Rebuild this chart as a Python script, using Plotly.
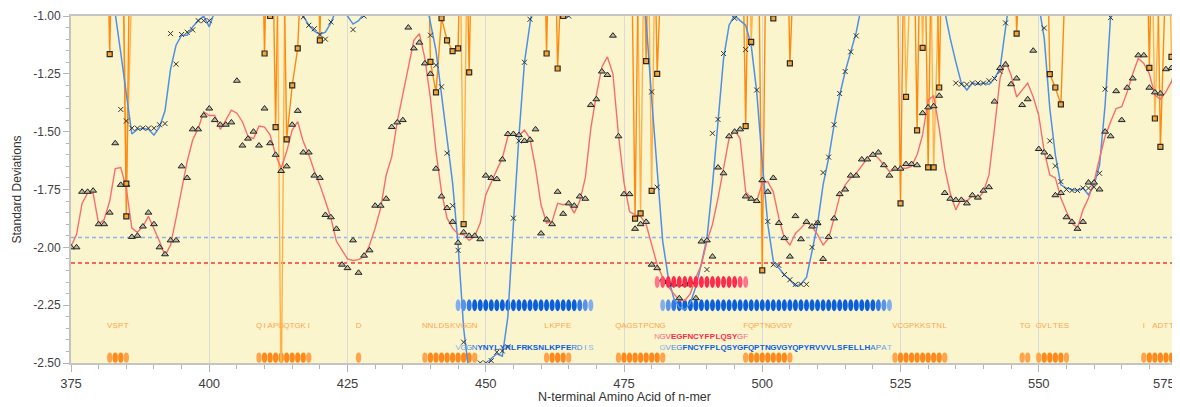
import plotly.graph_objects as go

# ---------------- data ----------------
POSITIONS = list(range(375, 576))

# raw standard deviations (triangles)
TRIANGLE_SD = [
    -2.00, -2.00, -1.76, -1.76, -1.755, -1.90, -1.90, -1.85, -1.55, -1.73,      # 375-384
    -1.73, -1.955, -1.95, -1.91, -1.85, -1.90, -2.00, -2.03, -1.97, -1.97,      # 385-394
    -1.65, -1.70, -1.49, -1.49, -1.43, -1.40, -1.45, -1.47, -1.47, -1.46,       # 395-404
    -1.28, -1.56, -1.53, -1.50, -1.56, -1.40, -1.55, -1.60, -1.67, -1.65,       # 405-414
    -1.47, -1.41, -1.59, -1.59, -1.69, -1.70, -1.86, -1.87, -1.92, -2.075,      # 415-424
    -2.09, -1.97, -2.11, -2.036, -2.013, -1.82, -1.82, -1.79, -1.48, -1.46,     # 425-434
    -1.45, -1.05, -1.14, -1.115, -1.205, -1.25, -1.66, -1.78, -1.83, -1.89,     # 435-444
    -1.98, -1.935, -1.95, -1.95, -1.965, -1.69, -1.70, -1.705, -1.62, -1.51,    # 445-454
    -1.51, -1.515, -1.54, -1.535, -1.49, -1.94, -1.88, -1.90, -1.76, -1.855,    # 455-464
    -1.81, -1.82, -1.78, -1.79, -1.385, -1.36, -1.24, -1.255, -1.085, -1.52,    # 465-474
    -1.77, -1.77, -1.92, -1.90, -1.89, -2.075, -2.09, -2.14, -2.15, -2.16,      # 475-484
    -2.22, -2.16, -2.15, -2.22, -1.975, -1.97, -2.04, -1.655, -1.68, -1.52,     # 485-494
    -1.50, -1.49, -1.78, -1.79, -1.80, -1.71, -1.76, -1.70, -1.895, -1.96,      # 495-504
    -2.04, -1.865, -1.965, -1.89, -1.91, -1.895, -2.05, -1.955, -1.875, -1.77,  # 505-514
    -1.75, -1.69, -1.69, -1.62, -1.62, -1.60, -1.59, -1.645, -1.69, -1.66,      # 515-524
    -1.66, -1.64, -1.64, -1.645, -1.42, -1.395, -1.39, -1.345, -1.765, -1.79,   # 525-534
    -1.795, -1.795, -1.81, -1.775, -1.785, -1.755, -1.74, -1.37, -1.225, -1.21, # 535-544
    -1.295, -1.27, -1.385, -1.36, -1.15, -1.575, -1.59, -1.61, -1.775, -1.765,  # 545-554
    -1.87, -1.89, -1.92, -1.89, -1.72, -1.72, -1.75, -1.50, -1.52, -1.325,      # 555-564
    -1.45, -1.31, -1.27, -1.17, -1.17, -1.31, -1.33, -1.335, -1.23, -1.225,     # 565-574
    -1.255,                                                                     # 575
]

# smoothed curve (red line)
SMOOTH_SD = [
    -1.996, -1.945, -1.81, -1.766, -1.766, -1.90, -1.88, -1.80, -1.66, -1.655,
    -1.745, -1.917, -1.935, -1.91, -1.866, -1.917, -1.974, -2.036, -1.99, -1.874,
    -1.745, -1.63, -1.536, -1.486, -1.414, -1.43, -1.43, -1.49, -1.45, -1.407,
    -1.42, -1.457, -1.52, -1.53, -1.476, -1.48, -1.514, -1.60, -1.658, -1.586,
    -1.493, -1.457, -1.543, -1.60, -1.67, -1.73, -1.80, -1.874, -1.974, -2.01,
    -2.05, -2.057, -2.053, -2.04, -1.99, -1.917, -1.83, -1.687, -1.608, -1.457,
    -1.34, -1.213, -1.105, -1.076, -1.184, -1.356, -1.586, -1.76, -1.874, -1.917,
    -1.943, -1.945, -1.97, -1.953, -1.895, -1.773, -1.716, -1.665, -1.615, -1.52,
    -1.507, -1.517, -1.493, -1.53, -1.658, -1.816, -1.895, -1.888, -1.81, -1.816,
    -1.81, -1.852, -1.80, -1.70, -1.486, -1.342, -1.22, -1.177, -1.25, -1.514,
    -1.72, -1.845, -1.86, -1.866, -1.90, -1.99, -2.075, -2.13, -2.17, -2.20,
    -2.23, -2.23, -2.20, -2.13, -2.075, -1.974, -1.90, -1.787, -1.658, -1.53,
    -1.493, -1.53, -1.76, -1.787, -1.80, -1.723, -1.716, -1.76, -1.874, -1.96,
    -1.99, -1.94, -1.917, -1.89, -1.91, -1.945, -1.99, -1.96, -1.874, -1.78,
    -1.73, -1.70, -1.68, -1.65, -1.615, -1.593, -1.615, -1.644, -1.672, -1.665,
    -1.658, -1.658, -1.65, -1.60, -1.514, -1.364, -1.345, -1.486, -1.658, -1.766,
    -1.838, -1.79, -1.80, -1.776, -1.79, -1.76, -1.687, -1.486, -1.27, -1.195,
    -1.256, -1.35, -1.32, -1.29, -1.35, -1.43, -1.586, -1.687, -1.70, -1.787,
    -1.845, -1.895, -1.917, -1.838, -1.787, -1.716, -1.615, -1.52, -1.457, -1.40,
    -1.392, -1.328, -1.25, -1.184, -1.205, -1.25, -1.342, -1.36, -1.328, -1.284,
    -1.213,
]

# second scoring curve (blue line); values above -1.0 run off the top of the plot
BLUE_SMOOTH_SD = [
    -0.7, -0.7, -0.7, -0.7, -0.7, -0.7, -0.7, -0.85, -0.99, -1.16,
    -1.33, -1.51, -1.49, -1.485, -1.49, -1.515, -1.48, -1.41, -1.23, -1.126,
    -1.083, -1.083, -1.047, -1.02, -1.0, -1.047, -0.98, -0.8, -0.7, -0.7,
    -0.7, -0.7, -0.7, -0.7, -0.7, -0.7, -0.7, -0.7, -0.7, -0.7,
    -0.8, -0.95, -1.0, -1.04, -1.065, -1.08, -1.07, -1.03, -0.97, -0.98,
    -1.0, -1.035, -1.02, -0.99, -0.85, -0.7, -0.7, -0.7, -0.7, -0.7,
    -0.7, -0.7, -0.7, -0.8, -0.9, -1.03, -1.15, -1.34, -1.52, -1.72,
    -1.99, -2.35, -2.55, -2.56, -2.55, -2.52, -2.48, -2.46, -2.47, -2.3,
    -1.9, -1.52, -1.2, -1.02, -0.85, -0.7, -0.7, -0.8, -0.97, -1.01,
    -1.0, -0.9, -0.7, -0.7, -0.7, -0.7, -0.7, -0.7, -0.7, -0.7,
    -0.7, -0.7, -0.7, -0.85, -1.02, -1.356, -1.672, -1.974, -2.13, -2.22,
    -2.26, -2.27, -2.24, -2.17, -2.07, -1.96, -1.73, -1.457, -1.184, -1.04,
    -0.997, -1.02, -1.04, -1.126, -1.328, -1.63, -1.90, -2.06, -2.09, -2.12,
    -2.14, -2.168, -2.158, -2.13, -2.017, -1.90, -1.73, -1.615, -1.47, -1.342,
    -1.24, -1.155, -1.07, -0.95, -0.8, -0.7, -0.7, -0.7, -0.7, -0.7,
    -0.7, -0.7, -0.7, -0.7, -0.7, -0.7, -0.75, -0.85, -0.98, -1.098,
    -1.198, -1.29, -1.32, -1.29, -1.296, -1.29, -1.296, -1.27, -1.227, -1.07,
    -0.9, -0.7, -0.7, -0.8, -0.9, -0.95, -1.098, -1.40, -1.60, -1.73,
    -1.744, -1.75, -1.754, -1.744, -1.773, -1.73, -1.644, -1.385, -0.997, -0.8,
    -0.7, -0.7, -0.7, -0.7, -0.7, -0.7, -0.7, -0.8, -0.9, -0.97,
    -1.04,
]

# raw points of the blue curve (x marks)
BLUE_RAW_POS = [384, 385, 386, 387, 388, 389, 390, 391, 392, 393, 394, 395, 396, 397, 398, 399, 400,
                417, 418, 419, 420, 421, 422, 426, 428,
                440, 441, 442, 443, 444, 445, 446, 449, 450, 451, 452, 453, 454, 455, 456, 457, 458,
                464, 465, 480, 481,
                490, 491, 492, 493, 495, 497, 498, 499,
                501, 502, 503, 504, 505, 506, 507, 508, 509, 510, 511, 512, 513, 514, 515, 516, 517,
                535, 536, 537, 538, 539, 540, 541, 542, 543, 544,
                551, 552, 553, 554, 555, 556, 557, 558, 559, 560, 561, 562, 563, 575]
BLUE_RAW_SD = [-1.404, -1.454, -1.485, -1.485, -1.485, -1.485, -1.485, -1.47, -1.465, -1.076, -1.208, -1.08, -1.07, -1.06, -1.02, -1.02, -1.02,
               -1.004, -1.04, -1.055, -1.08, -1.10, -1.026, -1.059, -1.0,
               -1.083, -1.213, -1.306, -1.593, -1.82, -2.013, -2.41, -2.5, -2.5, -2.49, -2.453, -2.448, -2.43, -1.874, -1.54, -1.20, -1.014,
               -1.0, -1.0, -1.328, -1.74,
               -2.096, -1.507, -1.447, -1.162, -1.01, -1.145, -1.12, -1.32,
               -1.888, -2.075, -2.078, -2.118, -2.14, -2.16, -2.16, -2.16, -2.0, -1.895, -1.677, -1.61, -1.47, -1.335, -1.24, -1.155, -1.086,
               -1.29, -1.295, -1.296, -1.29, -1.29, -1.29, -1.28, -1.27, -1.24, -1.03,
               -1.052, -1.54, -1.648, -1.716, -1.75, -1.754, -1.754, -1.744, -1.744, -1.74, -1.68, -1.316, -1.007, -1.057]

# orange n-mer scores: only the dips reach the visible range, everything else is off-scale high
ORANGE_A_POS = [382, 385, 410, 412, 414, 415, 416, 420, 440, 441, 442, 443, 444, 445, 447, 461, 463,
                477, 479, 481, 497, 500, 505, 525, 528, 530, 532, 546, 552, 553, 554, 570, 572]
ORANGE_A_SD = [-1.165, -1.866, -1.162, -1.48, -1.533, -1.30, -1.14, -1.105, -1.198, -1.33, -1.009, -1.105,
               -1.152, -1.14, -1.244, -1.162, -1.227, -1.876, -1.195, -1.25, -1.476, -2.10, -1.205, -1.81,
               -1.494, -1.654, -1.309, -1.076, -1.251, -1.309, -1.382, -1.224, -1.566]
ORANGE_B_POS = [385, 411, 413, 446, 464, 478, 480, 498, 502, 526, 529, 531, 571, 574, 575]
ORANGE_B_SD = [-1.725, -1.0, -2.70, -1.90, -1.0, -1.853, -1.756, -1.112, -1.01, -1.35, -1.138, -1.654,
               -1.443, -1.177, -1.205]
ORANGE_OFFSCALE_SD = 0.0

BLUE_THRESHOLD = -1.957
RED_THRESHOLD = -2.068

# predicted epitope runs: (first residue, sequence)
ORANGE_RUNS = [(382, "VSPT"), (409, "QIAPGQTGKI"), (427, "D"), (439, "NNLDSKVGGN"), (461, "LKPFE"),
               (474, "QAGSTPCNG"), (497, "FQPTNGVGY"), (524, "VCGPKKSTNL"), (547, "TG"),
               (550, "GVLTES"), (569, "I ADTTD")]
BLUE_RUNS = [(445, "VGGNYNYLYRLFRKSNLKPFERDIS"),
             (482, "GVEGFNCYFPLQSYGFQPTNGVGYQPYRVVVLSFELLHAPAT")]
RED_RUNS = [(481, "NGVEGFNCYFPLQSYGF")]

X_TICKS = [375, 400, 425, 450, 475, 500, 525, 550, 575]
Y_TICKS = [-1.0, -1.25, -1.5, -1.75, -2.0, -2.25, -2.5]

assert len(TRIANGLE_SD) == len(POSITIONS) == len(SMOOTH_SD) == len(BLUE_SMOOTH_SD)
assert len(BLUE_RAW_POS) == len(BLUE_RAW_SD)

# ---------------- styling helpers ----------------
def hex_to_rgb(h):
    h = h.lstrip('#')
    return tuple(int(h[i:i + 2], 16) for i in (0, 2, 4))


def mix(c_light, c_dark, t):
    a, b = hex_to_rgb(c_light), hex_to_rgb(c_dark)
    return 'rgb(%d,%d,%d)' % tuple(round(a[i] + (b[i] - a[i]) * t) for i in range(3))


def run_items(runs, lead, tail):
    xs, letters, shade = [], [], []
    for start, seq in runs:
        n = len(seq)
        for i, ch in enumerate(seq):
            xs.append(start + i)
            letters.append(ch)
            shade.append(min(1.0, (i + 1) / lead, (n - i) / tail))
    return xs, letters, shade


def full_series(pos, vals):
    lookup = dict(zip(pos, vals))
    return [lookup.get(p, ORANGE_OFFSCALE_SD) for p in POSITIONS]


FONT = "Liberation Sans, Arial, sans-serif"
fig = go.Figure()

ROW_Y = {"orange": -2.477, "blue": -2.25, "red": -2.15}
ROW_HALF = {"orange": 0.022, "blue": 0.026, "red": 0.026}
ROW_W = {"orange": 0.95, "blue": 0.9, "red": 0.9}
TEXT_Y = {"orange": -2.34, "red": -2.388, "blue": -2.435}
PALETTE = {"orange": ("#FFBE78", "#FF8A1C"), "blue": ("#A9C9F5", "#0A5FDD"), "red": ("#FF9AAA", "#FF2A4C")}
LETTER_MAX = {"orange": 0.45, "blue": 1.0, "red": 1.0}


def add_ellipses(name, runs, lead, tail, layer):
    xs, _, shade = run_items(runs, lead, tail)
    light, dark = PALETTE[name]
    for xv, t in zip(xs, shade):
        fig.add_shape(type="circle", xref="x", yref="y",
                      x0=xv - ROW_W[name] / 2, x1=xv + ROW_W[name] / 2,
                      y0=ROW_Y[name] - ROW_HALF[name], y1=ROW_Y[name] + ROW_HALF[name],
                      fillcolor=mix(light, dark, t), line=dict(width=0), layer=layer)


add_ellipses("orange", ORANGE_RUNS, 2, 2, "between")
add_ellipses("blue", BLUE_RUNS, 4, 4, "between")
add_ellipses("red", RED_RUNS, 3, 3, "above")

# orange n-mer lines
fig.add_trace(go.Scatter(x=POSITIONS, y=full_series(ORANGE_B_POS, ORANGE_B_SD), mode="lines",
                         line=dict(color="#FFB24A", width=1.4), hoverinfo="skip"))
fig.add_trace(go.Scatter(x=POSITIONS, y=full_series(ORANGE_A_POS, ORANGE_A_SD), mode="lines",
                         line=dict(color="#FF8A10", width=1.4), hoverinfo="skip"))

# blue and red curves
fig.add_trace(go.Scatter(x=POSITIONS, y=BLUE_SMOOTH_SD, mode="lines",
                         line=dict(color="#4E8FE8", width=1.5), hoverinfo="skip"))
fig.add_trace(go.Scatter(x=POSITIONS, y=SMOOTH_SD, mode="lines",
                         line=dict(color="#F86E6E", width=1.4), hoverinfo="skip"))

# markers
fig.add_trace(go.Scatter(x=POSITIONS, y=TRIANGLE_SD, mode="markers",
                         marker=dict(symbol="triangle-up", size=6, color="#BDB9A0",
                                     line=dict(color="#222222", width=1)), hoverinfo="skip"))
fig.add_trace(go.Scatter(x=BLUE_RAW_POS, y=BLUE_RAW_SD, mode="markers",
                         marker=dict(symbol="x-thin-open", size=5, color="#333333",
                                     line=dict(color="#333333", width=1)), hoverinfo="skip"))
fig.add_trace(go.Scatter(x=ORANGE_A_POS + ORANGE_B_POS, y=ORANGE_A_SD + ORANGE_B_SD, mode="markers",
                         marker=dict(symbol="square", size=5, color="#F7A635",
                                     line=dict(color="#2A2A2A", width=1.2)), hoverinfo="skip"))


# letter rows
def add_letters(name, runs, lead, tail, bold):
    xs, letters, shade = run_items(runs, lead, tail)
    light, dark = PALETTE[name]
    texts = [("<b>%s</b>" % ch) if (bold and t >= 0.99) else ch for ch, t in zip(letters, shade)]
    fig.add_trace(go.Scatter(x=xs, y=[TEXT_Y[name]] * len(xs), mode="text", text=texts,
                             textfont=dict(family=FONT, size=8,
                                           color=[mix(light, dark, t * LETTER_MAX[name]) for t in shade]),
                             hoverinfo="skip"))


add_letters("orange", ORANGE_RUNS, 1, 1, False)
add_letters("red", RED_RUNS, 4, 3, True)
add_letters("blue", BLUE_RUNS, 5, 5, True)

# threshold lines
for yv, col in ((BLUE_THRESHOLD, "#8DB6F0"), (RED_THRESHOLD, "#F03A3A")):
    fig.add_shape(type="line", xref="paper", x0=0, x1=1, yref="y", y0=yv, y1=yv,
                  line=dict(color=col, width=1.5, dash="4px,3px"), layer="between")

# the last x label sits flush with the right edge of the plot (as in the source chart)
x_ticktext = [str(v) for v in X_TICKS[:-1]] + [""]

# the page body adds an 8px margin around the figure, so the figure itself is 8px smaller
fig.update_layout(
    width=1172, height=399,
    margin=dict(l=63, r=1, t=6, b=44),
    paper_bgcolor="white", plot_bgcolor="#FAF5CD",
    showlegend=False,
    font=dict(family=FONT, size=12, color="#404040"),
    xaxis=dict(range=[375, 575], tickmode="array", tickvals=X_TICKS,
               ticktext=x_ticktext, ticks="outside", ticklen=7,
               tickcolor="#B5B5B5", showgrid=True, gridcolor="#DADADA", gridwidth=1,
               showline=True, linecolor="#C4C4C4", linewidth=2, mirror=True, zeroline=False,
               tickfont=dict(size=13, color="#404040"),
               minor=dict(tick0=375, dtick=5, ticks="outside", ticklen=4, tickcolor="#B5B5B5",
                          showgrid=False)),
    yaxis=dict(range=[-2.5, -1.0], tickmode="array", tickvals=Y_TICKS,
               ticktext=["%.2f" % v for v in Y_TICKS], ticks="outside", ticklen=6,
               tickcolor="#B5B5B5", showgrid=False, showline=True, linecolor="#C4C4C4",
               linewidth=2, mirror=True, zeroline=False,
               tickfont=dict(size=12, color="#404040"), ticklabeloverflow="allow",
               minor=dict(tick0=-2.5, dtick=0.05, ticks="outside", ticklen=3, tickcolor="#B5B5B5",
                          showgrid=False)),
    annotations=[
        dict(text="Standard Deviations", xref="paper", yref="paper", x=0, y=0.5,
             xanchor="center", yanchor="middle", xshift=-55, textangle=-90, showarrow=False,
             font=dict(size=12, color="#333333")),
        dict(text="N-terminal Amino Acid of n-mer", xref="paper", yref="paper", x=0.5, y=0,
             xanchor="center", yanchor="middle", yshift=-34, showarrow=False,
             font=dict(size=12.5, color="#333333")),
        dict(text=str(X_TICKS[-1]), xref="paper", yref="paper", x=1, y=0,
             xanchor="right", yanchor="middle", yshift=-20, showarrow=False,
             font=dict(size=13, color="#404040")),
    ],
)

fig.write_html("out.html")
